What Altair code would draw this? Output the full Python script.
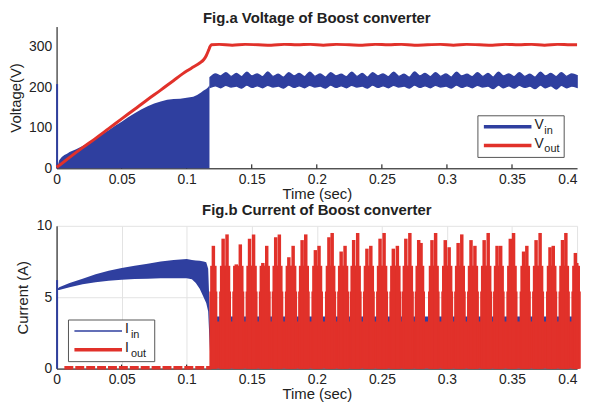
import altair as alt
import numpy as np
import pandas as pd

FONT = "Liberation Sans"
BLUE = "#2f3f9f"
RED = "#e1312a"
W, H1, H2 = 525, 143, 144

# ---------------- data: Fig.a ----------------
x_ticks = [0, 0.05, 0.1, 0.15, 0.2, 0.25, 0.3, 0.35, 0.4]
v_ticks = [0, 100, 200, 300]
i_ticks = [0, 5, 10]

vin_t1 = [0.0008, 0.002, 0.004, 0.006, 0.008, 0.01, 0.015, 0.02, 0.025, 0.03, 0.035,
          0.04, 0.045, 0.05, 0.055, 0.06, 0.065, 0.07, 0.075, 0.08, 0.085, 0.09, 0.095,
          0.1, 0.105, 0.108, 0.111, 0.113, 0.115, 0.1165, 0.1175]
vin_hi1 = [5, 20, 28, 33, 36, 40, 47, 55, 64, 74, 84, 94, 105, 115, 126, 136, 145, 153,
           160, 165, 169, 171, 172, 174, 177, 181, 187, 192, 196, 200, 205]
vin_hi2 = [224, 233, 228, 236, 227, 234, 226, 237, 228, 233, 226, 238, 227, 232, 225, 236,
           228, 234, 226, 237, 227, 233, 225, 236, 228, 232, 226, 237, 227, 234, 225, 236,
           228, 233, 226, 237, 227, 232, 225, 238, 228, 234, 226, 236, 227, 233, 225, 237,
           228, 232, 226, 236, 227, 234, 225, 237, 228, 233, 226, 236, 227, 232, 225, 237,
           228, 234, 226, 236, 227, 233, 229]
vin_lo2 = [200, 204, 199, 205, 201, 203, 198, 206, 200, 204, 199, 205, 201, 203, 198, 206,
           200, 204, 199, 205, 201, 203, 198, 206, 200, 204, 199, 205, 201, 203, 198, 206,
           200, 204, 199, 205, 201, 203, 198, 206, 200, 204, 199, 205, 201, 203, 198, 206,
           200, 204, 199, 205, 201, 203, 197, 206, 199, 204, 198, 205, 200, 203, 197, 206,
           199, 204, 196, 205, 199, 203, 200]
vin_t2 = list(np.linspace(0.118, 0.4, len(vin_hi2)))
vin_spike_t = [0.0004]
vin_spike_v = [208]

vout_t = [0, 0.002, 0.01, 0.02, 0.03, 0.04, 0.05, 0.06, 0.07, 0.08, 0.09, 0.1, 0.105,
          0.11, 0.113, 0.115, 0.117, 0.118, 0.119, 0.125, 0.135, 0.145, 0.155, 0.165,
          0.175, 0.185, 0.195, 0.205, 0.215, 0.225, 0.235, 0.245, 0.255, 0.265, 0.275,
          0.285, 0.295, 0.305, 0.315, 0.325, 0.335, 0.345, 0.355, 0.365, 0.375, 0.385,
          0.395, 0.4]
vout_v = [3, 7, 27, 51, 74, 98, 122, 146, 170, 193, 217, 240, 250, 260, 268, 278, 293,
          301, 305, 306, 304, 306, 305, 304, 306, 305, 306, 304, 306, 305, 304, 306, 305,
          306, 304, 305, 306, 304, 306, 305, 304, 306, 305, 306, 304, 306, 305, 305]

# ---------------- data: Fig.b ----------------
iin_t1 = [0.0008, 0.002, 0.01, 0.02, 0.03, 0.04, 0.05, 0.06, 0.07, 0.08, 0.09, 0.1,
          0.104, 0.107, 0.11, 0.113, 0.115, 0.1165, 0.1175, 0.1185]
iin_lo1 = [5.5, 5.5, 5.7, 5.9, 6.05, 6.15, 6.22, 6.27, 6.3, 6.32, 6.33, 6.32, 6.25, 6.0,
           5.6, 5.0, 4.6, 4.0, 2.0, 0.0]
iin_hi1 = [5.6, 5.7, 6.0, 6.3, 6.6, 6.85, 7.05, 7.2, 7.35, 7.5, 7.6, 7.68, 7.6, 7.58,
           7.55, 7.5, 7.45, 7.0, 4.5, 0.0]
iin_spike_t = [0.0004]
iin_spike_v = [6.2]
iin_t2 = [0.1185, 0.4]
iin_hi2 = [3.65, 3.65]

iout_t0 = [0.006, 0.119]
iout_v0 = [0.06, 0.06]
iout_t1 = [0.119, 0.4]
iout_hi1 = [3.3, 3.3]
pk_t = [0.1205, 0.1280, 0.1310, 0.1381, 0.1412, 0.1483, 0.1514, 0.1585, 0.1615, 0.1684,
        0.1712, 0.1785, 0.1818, 0.1887, 0.1915, 0.1989, 0.2017, 0.2093, 0.2118, 0.2187,
        0.2217, 0.2283, 0.2314, 0.2385, 0.2415, 0.2486, 0.2517, 0.2588, 0.2619, 0.2684,
        0.2715, 0.2783, 0.2801, 0.2885, 0.2913, 0.2987, 0.3017, 0.3086, 0.3114, 0.3185,
        0.3215, 0.3286, 0.3317, 0.3385, 0.3413, 0.3487, 0.3512, 0.3589, 0.3614, 0.3685,
        0.3716, 0.3792, 0.3817, 0.3888, 0.3914, 0.3987, 0.3998]
pk_h = [8.6, 9.1, 9.4, 7.3, 8.7, 9.1, 9.4, 7.4, 8.6, 9.2, 9.4, 7.8, 8.6, 9.0, 9.4, 8.3,
        8.6, 9.2, 9.5, 8.2, 8.6, 9.0, 9.5, 8.4, 8.6, 9.1, 9.5, 8.4, 8.6, 9.1, 9.5, 9.0,
        8.8, 9.0, 9.5, 9.0, 8.5, 8.8, 9.4, 9.0, 8.6, 9.0, 9.5, 8.6, 8.6, 9.1, 9.5, 8.2,
        8.6, 9.0, 9.5, 8.5, 8.6, 9.0, 9.5, 8.1, 7.4]

# ---------------- helpers ----------------
xscale = alt.Scale(domain=[0, 0.4], nice=False, zero=False)
vscale = alt.Scale(domain=[0, 350], nice=False)
iscale = alt.Scale(domain=[0, 10], nice=False)
one = pd.DataFrame({"a": [0]})

# last time label kept inside the page (right-aligned), others centred
LABEL_ALIGN = {"condition": {"test": "datum.value >= 0.399", "value": "right"},
               "value": "center"}

XAX_TOP = alt.Axis(values=x_ticks, format="~g", title="Time (sec)", grid=False,
                   tickSize=0, labelPadding=4, labelFlush=False, labelAlign=LABEL_ALIGN,
                   titlePadding=0)
XAX_BOT = alt.Axis(values=x_ticks, format="~g", title="Time (sec)", grid=True,
                   tickSize=0, labelPadding=4, labelFlush=False, labelAlign=LABEL_ALIGN,
                   titlePadding=0, gridColor="#e3e3e3")
YAX_TOP = alt.Axis(values=v_ticks, title="Voltage(V)", grid=False, tickSize=0,
                   labelPadding=5, titlePadding=5)
YAX_BOT = alt.Axis(values=i_ticks, title="Current (A)", grid=True, tickSize=0,
                   labelPadding=5, titlePadding=6, gridColor="#e3e3e3")


def xe(ax):
    return alt.X("t:Q", scale=xscale, axis=ax, title="Time (sec)")


def ye(field, sc, ax, title):
    return alt.Y(field, scale=sc, axis=ax, title=title)


def legend(x0, y0, lab, sub1, sub2, w1):
    box = alt.Chart(one).mark_rect(fill="white", stroke="#555", strokeWidth=1).encode(
        x=alt.value(x0), x2=alt.value(x0 + 87), y=alt.value(y0), y2=alt.value(y0 + 42))
    l1 = alt.Chart(one).mark_rule(color=BLUE, strokeWidth=w1).encode(
        x=alt.value(x0 + 6), x2=alt.value(x0 + 54), y=alt.value(y0 + 11))
    l2 = alt.Chart(one).mark_rule(color=RED, strokeWidth=3.5).encode(
        x=alt.value(x0 + 6), x2=alt.value(x0 + 54), y=alt.value(y0 + 30))
    dx = 10 if lab == "V" else 6
    out = [box, l1, l2]
    for txt, size, ddx, dy in [(lab, 14, 0, 9), (sub1, 11, dx, 15),
                               (lab, 14, 0, 28), (sub2, 11, dx, 34)]:
        out.append(alt.Chart(one).mark_text(text=txt, align="left", baseline="middle",
                                            fontSize=size, font=FONT, color="#222").encode(
            x=alt.value(x0 + 57 + ddx), y=alt.value(y0 + dy)))
    return out


# ---------------- Fig.a ----------------
d_xt = pd.DataFrame({"t": x_ticks[1:-1], "lo": 0.0, "hi": 9.8})
d_vin1 = pd.DataFrame({"t": vin_t1, "lo": 0.0, "hi": vin_hi1})
d_vin2 = pd.DataFrame({"t": vin_t2, "lo": vin_lo2, "hi": vin_hi2})
d_vsp = pd.DataFrame({"t": vin_spike_t, "lo": 0.0, "hi": vin_spike_v})
d_vout = pd.DataFrame({"t": vout_t, "lo": vout_v})

VT = "Voltage(V)"
a_tk = alt.Chart(d_xt).mark_rule(color="#000", strokeWidth=1).encode(
    x=xe(XAX_TOP), y=ye("lo:Q", vscale, YAX_TOP, VT), y2="hi:Q")
a_vin1 = alt.Chart(d_vin1).mark_area(color=BLUE, opacity=1).encode(
    x=xe(XAX_TOP), y=ye("lo:Q", vscale, YAX_TOP, VT), y2="hi:Q")
a_vin2 = alt.Chart(d_vin2).mark_area(color=BLUE, opacity=1, stroke=BLUE,
                                     strokeWidth=1.5, interpolate="monotone").encode(
    x=xe(XAX_TOP), y=ye("lo:Q", vscale, YAX_TOP, VT), y2="hi:Q")
a_vsp = alt.Chart(d_vsp).mark_rule(color=BLUE, strokeWidth=2).encode(
    x=xe(XAX_TOP), y=ye("lo:Q", vscale, YAX_TOP, VT), y2="hi:Q")
a_vout = alt.Chart(d_vout).mark_line(color=RED, strokeWidth=3, interpolate="monotone").encode(
    x=xe(XAX_TOP), y=ye("lo:Q", vscale, YAX_TOP, VT))

top = alt.layer(a_tk, a_vin1, a_vin2, a_vsp, a_vout,
                *legend(425, 90, "V", "in", "out", 3.5)).properties(
    width=W, height=H1,
    title=alt.TitleParams("Fig.a Voltage of Boost converter", offset=1))

# ---------------- Fig.b ----------------
d_xt2 = pd.DataFrame({"t": x_ticks[1:-1], "lo": 0.0, "hi": 0.28})
d_iin1 = pd.DataFrame({"t": iin_t1, "lo": iin_lo1, "hi": iin_hi1})
d_isp = pd.DataFrame({"t": iin_spike_t, "lo": 0.0, "hi": iin_spike_v})
d_iin2 = pd.DataFrame({"t": iin_t2, "lo": 0.0, "hi": iin_hi2})
d_io0 = pd.DataFrame({"t": iout_t0, "lo": iout_v0})
d_io1 = pd.DataFrame({"t": iout_t1, "lo": 0.0, "hi": iout_hi1})
d_pk = pd.DataFrame({"t": pk_t, "lo": 0.0, "hi": pk_h, "s1": 5.4, "s2": 7.2})

IT = "Current (A)"


def yb(f="lo:Q"):
    return ye(f, iscale, YAX_BOT, IT)


b_tk = alt.Chart(d_xt2).mark_rule(color="#000", strokeWidth=1).encode(
    x=xe(XAX_BOT), y=yb(), y2="hi:Q")
b_iin1 = alt.Chart(d_iin1).mark_area(color=BLUE, opacity=1).encode(
    x=xe(XAX_BOT), y=yb(), y2="hi:Q")
b_isp = alt.Chart(d_isp).mark_rule(color=BLUE, strokeWidth=2).encode(
    x=xe(XAX_BOT), y=yb(), y2="hi:Q")
b_iin2 = alt.Chart(d_iin2).mark_area(color=BLUE, opacity=1).encode(
    x=xe(XAX_BOT), y=yb(), y2="hi:Q")
b_io0 = alt.Chart(d_io0).mark_line(color=RED, strokeWidth=3.5, strokeDash=[9, 2]).encode(
    x=xe(XAX_BOT), y=yb())
b_io1 = alt.Chart(d_io1).mark_area(color=RED, opacity=1).encode(
    x=xe(XAX_BOT), y=yb(), y2="hi:Q")
b_sh1 = alt.Chart(d_pk).mark_rule(color=RED, strokeWidth=8).encode(
    x=xe(XAX_BOT), y=yb(), y2="s1:Q")
b_sh2 = alt.Chart(d_pk).mark_rule(color=RED, strokeWidth=6.5).encode(
    x=xe(XAX_BOT), y=yb(), y2="s2:Q")
b_pk = alt.Chart(d_pk).mark_rule(color=RED, strokeWidth=3.5).encode(
    x=xe(XAX_BOT), y=yb(), y2="hi:Q")

bottom = alt.layer(b_tk, b_iin1, b_isp, b_iin2, b_io0, b_io1, b_sh1, b_sh2, b_pk,
                   *legend(12, 95, "I", "in", "out", 1.5)).properties(
    width=W, height=H2,
    title=alt.TitleParams("Fig.b Current of Boost converter", offset=1))

chart = alt.vconcat(top, bottom, spacing=0).properties(
    padding={"left": 0, "top": 0, "right": 0, "bottom": 0}
).configure_axis(
    labelFont=FONT, titleFont=FONT, labelFontSize=14, titleFontSize=15,
    titleFontWeight="normal", labelColor="#222", titleColor="#222", domainColor="#000"
).configure_title(
    font=FONT, fontSize=15, fontWeight="bold", color="#222", anchor="middle"
).configure_view(stroke="transparent")

chart.save("out.html", embed_options={"renderer": "svg", "actions": False})
